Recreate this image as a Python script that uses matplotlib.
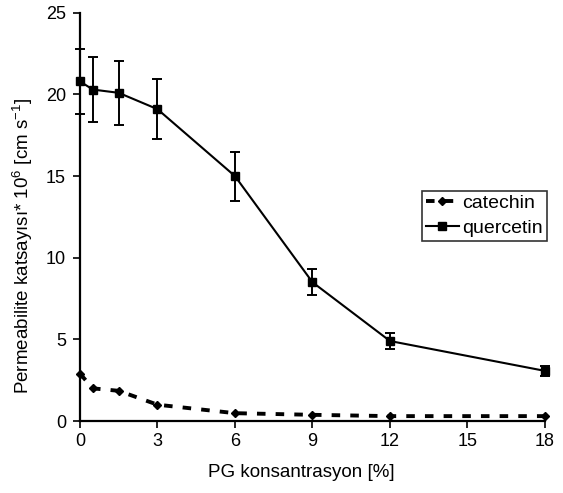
import matplotlib
matplotlib.use("Agg")
import matplotlib.pyplot as plt

plt.rcParams['font.family'] = ['Liberation Sans', 'DejaVu Sans']
plt.rcParams['mathtext.fontset'] = 'custom'
plt.rcParams['mathtext.rm'] = 'Liberation Sans'
plt.rcParams['mathtext.default'] = 'regular'

# PG concentration [%]
pg = [0, 0.5, 1.5, 3, 6, 9, 12, 18]

catechin = [2.9, 2.0, 1.85, 1.0, 0.48, 0.38, 0.3, 0.3]
quercetin = [20.8, 20.3, 20.1, 19.1, 15.0, 8.5, 4.9, 3.07]
quercetin_err = [2.0, 2.0, 1.95, 1.85, 1.5, 0.8, 0.5, 0.3]

x_ticks = [0, 3, 6, 9, 12, 15, 18]
y_ticks = [0, 5, 10, 15, 20, 25]

fig = plt.figure(figsize=(5.63, 4.93), dpi=100)
ax = fig.add_axes([0.142, 0.146, 0.826, 0.828])

ax.plot(pg, catechin, linestyle=(0, (2.2, 2.6)), color='black', linewidth=2.8,
        marker='D', markersize=4, label='catechin', clip_on=False)
# error bars drawn separately so the legend handle is just line + marker
ax.errorbar(pg, quercetin, yerr=quercetin_err, fmt='none', ecolor='black',
            capsize=3.5, elinewidth=1.4, capthick=1.4, clip_on=False)
ax.plot(pg, quercetin, color='black', linewidth=1.5, marker='s', markersize=6,
        label='quercetin', clip_on=False)

ax.set_xlim(0, 18)
ax.set_ylim(0, 25)
ax.set_xticks(x_ticks)
ax.set_yticks(y_ticks)
ax.spines['top'].set_visible(False)
ax.spines['right'].set_visible(False)
ax.spines['left'].set_linewidth(1.6)
ax.spines['bottom'].set_linewidth(1.6)
ax.tick_params(axis='both', labelsize=13, width=1.2, length=5, direction='out')
ax.tick_params(axis='y', pad=5)

ax.set_xlabel('PG konsantrasyon [%]', fontsize=13.5)
ax.xaxis.set_label_coords(0.477, -0.105)
ax.set_ylabel('Permeabilite katsayısı* 10$^6$ [cm s$^{-1}$]', fontsize=13.5)
ax.yaxis.set_label_coords(-0.097, 0.43)

leg = ax.legend(loc='upper left', bbox_to_anchor=(0.735, 0.564), fontsize=14,
                frameon=True, fancybox=False, edgecolor='black',
                handlelength=1.7, handletextpad=0.2, borderpad=0.2,
                labelspacing=0.35, borderaxespad=0)
leg.get_frame().set_linewidth(1.2)

fig.savefig('out.png', dpi=100)
